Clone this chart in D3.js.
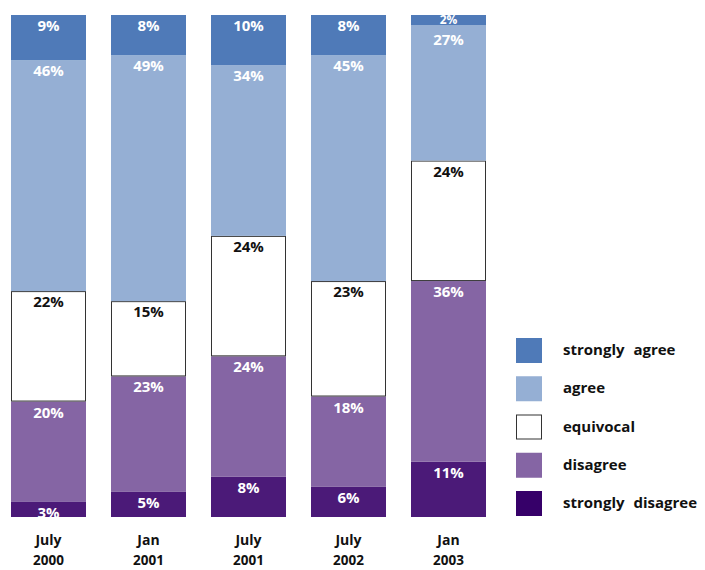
<!DOCTYPE html>
<html>
<head>
<meta charset="utf-8">
<script src="https://cdn.jsdelivr.net/npm/d3@7"></script>
<style>
  body { margin: 0; background: #fff; }
  text { font-family: "Open Sans", sans-serif; font-weight: bold; }
</style>
</head>
<body>
<div id="chart"></div>
<script>
// data
const months = ["July", "Jan", "July", "July", "Jan"];
const years = ["2000", "2001", "2001", "2002", "2003"];
const stronglyAgree = [9, 8, 10, 8, 2];
const agree = [46, 49, 34, 45, 27];
const equivocal = [22, 15, 24, 23, 24];
const disagree = [20, 23, 24, 18, 36];
const stronglyDisagree = [3, 5, 8, 6, 11];

const seriesNames = ["strongly agree", "agree", "equivocal", "disagree", "strongly disagree"];
const seriesValues = [stronglyAgree, agree, equivocal, disagree, stronglyDisagree];

// chart constants
const w = 705;
const h = 570;
const plotTop = 15;
const plotBottom = 517;

const colors = {
  "strongly agree": "#4f7ab8",
  "agree": "#95afd4",
  "equivocal": "#ffffff",
  "disagree": "#8565a4",
  "strongly disagree": "#4b1a78"
};
const legendColors = Object.assign({}, colors, { "strongly disagree": "#360069" });

// build rows for d3.stack
const rows = months.map((m, i) => {
  const row = { period: m + " " + years[i] };
  seriesNames.forEach((s, j) => row[s] = seriesValues[j][i]);
  return row;
});

// bottom of stack is strongly disagree
const keys = seriesNames.slice().reverse();
const stacked = d3.stack().keys(keys)(rows);

const svg = d3.select("#chart")
              .append("svg")
              .attr("width", w)
              .attr("height", h);

const xScale = d3.scaleBand()
                 .domain(rows.map(d => d.period))
                 .range([11, 486])
                 .paddingInner(0.25)
                 .paddingOuter(0);

const yScale = d3.scaleLinear()
                 .domain([0, 100])
                 .range([plotBottom, plotTop]);

const segHeight = p => yScale(p[0]) - yScale(p[1]);

// bars
const layers = svg.selectAll("g.layer")
                  .data(stacked)
                  .enter()
                  .append("g")
                  .attr("class", "layer");

layers.selectAll("rect")
      .data(d => d.map((p, i) => ({ key: d.key, p: p, i: i, layer: d.index })))
      .enter()
      .append("rect")
      .attr("x", d => xScale(d.p.data.period) + (d.key === "equivocal" ? 0.5 : 0))
      .attr("y", d => yScale(d.p[1]) + (d.key === "equivocal" ? 0.5 : 0))
      .attr("width", d => xScale.bandwidth() - (d.key === "equivocal" ? 1 : 0))
      .attr("height", d => segHeight(d.p) - (d.key === "equivocal" ? 1 : 0))
      .style("fill", d => colors[d.key])
      .style("stroke", d => d.key === "equivocal" ? "#333" : "none")
      .style("stroke-width", 1);

// value labels, near the top of each segment (centred in very thin ones)
function labelY(d) {
  const segTop = yScale(d.p[1]);
  const hgt = segHeight(d.p);
  if (hgt < 14) return segTop + hgt / 2 + 4;
  const above = stacked[d.layer + 1];
  const push = above && segHeight(above[d.i]) < 14 ? 4 : 0;
  return segTop + 16 + push;
}

layers.selectAll("text")
      .data(d => d.map((p, i) => ({ key: d.key, p: p, i: i, layer: d.index })))
      .enter()
      .append("text")
      .text(d => (d.p[1] - d.p[0]) + "%")
      .attr("x", d => xScale(d.p.data.period) + xScale.bandwidth() / 2)
      .attr("y", labelY)
      .attr("text-anchor", "middle")
      .style("font-size", d => segHeight(d.p) < 14 ? "12px" : "15px")
      .style("fill", d => d.key === "equivocal" ? "#111" : "#fff");

// category labels
const cats = svg.append("g").attr("id", "x-labels");
rows.forEach((r, i) => {
  const cx = xScale(r.period) + xScale.bandwidth() / 2;
  cats.append("text")
      .text(months[i])
      .attr("x", cx)
      .attr("y", 545)
      .attr("text-anchor", "middle")
      .style("font-size", "14px")
      .style("fill", "#111");
  cats.append("text")
      .text(years[i])
      .attr("x", cx)
      .attr("y", 565)
      .attr("text-anchor", "middle")
      .style("font-size", "13.5px")
      .style("fill", "#111");
});

// legend
const legend = svg.append("g").attr("id", "legend");
const legendY = d3.scalePoint()
                  .domain(seriesNames)
                  .range([338, 491]);

legend.selectAll("rect")
      .data(seriesNames)
      .enter()
      .append("rect")
      .attr("x", d => d === "equivocal" ? 516.5 : 516)
      .attr("y", d => legendY(d) + (d === "equivocal" ? 0.5 : 0))
      .attr("width", d => d === "equivocal" ? 25 : 26)
      .attr("height", d => d === "equivocal" ? 24 : 25)
      .style("fill", d => legendColors[d])
      .style("stroke", d => d === "equivocal" ? "#333" : "none");

legend.selectAll("text")
      .data(seriesNames)
      .enter()
      .append("text")
      .text(d => d)
      .attr("x", 563)
      .attr("y", d => legendY(d) + 17)
      .style("font-size", "15px")
      .style("word-spacing", "5px")
      .style("fill", "#111");
</script>
</body>
</html>
